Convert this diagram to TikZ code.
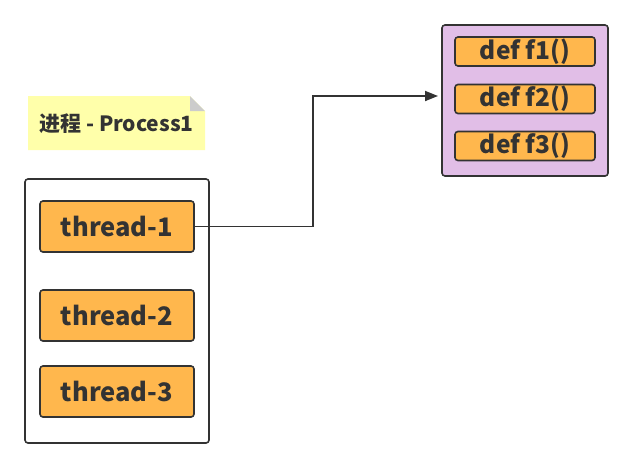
\documentclass[tikz,border=0pt]{standalone}
\usepackage{fontspec}
\setmainfont{Noto Sans CJK SC}
\usetikzlibrary{arrows.meta,positioning}
\definecolor{ink}{HTML}{333333}
\definecolor{orangefill}{HTML}{FFB74D}
\definecolor{purplefill}{HTML}{E1BEE7}
\definecolor{notefill}{HTML}{FFFFAA}
\definecolor{foldgray}{HTML}{CCCCCC}

\begin{document}
\begin{tikzpicture}[
  x=1pt, y=-1pt,
  >=Triangle,
  every node/.style={text=ink, font=\bfseries},
  frame/.style={draw=ink, line width=1.6pt, rounded corners=3pt, inner sep=0pt},
  thread/.style={frame, fill=orangefill, minimum width=154pt, minimum height=51pt,
                 font=\fontsize{25.5}{27}\selectfont\bfseries},
  func/.style={frame, fill=orangefill, minimum width=140pt, minimum height=29pt,
               font=\fontsize{24.5}{26}\selectfont\bfseries},
  link/.style={draw=ink, line width=1.8pt, ->, >={Triangle[length=13pt, width=10pt]}},
]
\useasboundingbox (0,0) rectangle (634,469);

% note with folded corner
\fill[notefill] (28,96) -- (190,96) -- (205,111) -- (205,150) -- (28,150) -- cycle;
\fill[foldgray] (190,96) -- (205,111) -- (190,111) -- cycle;
\node[font=\fontsize{21}{23}\selectfont\bfseries] (note) at (116.5,124) {进程 - Process1};

% process with its threads
\node[frame, minimum width=184pt, minimum height=264pt] (proc) at (117,311) {};
\node[thread] (t1) at (117,226.5) {thread-1};
\node[thread] (t2) at (117,315.5) {thread-2};
\node[thread] (t3) at (117,391.5) {thread-3};

% functions
\node[frame, fill=purplefill, minimum width=166pt, minimum height=151pt] (fbox) at (525,100.5) {};
\node[func] (f1) at (525,51.5) {def f1()};
\node[func] (f2) at (525,99) {def f2()};
\node[func] (f3) at (525,146) {def f3()};

% thread-1 calls into the functions
\coordinate (tip) at (438,96);
\draw[link] (t1.east) -- (313,226.5) |- (tip);
\end{tikzpicture}
\end{document}
